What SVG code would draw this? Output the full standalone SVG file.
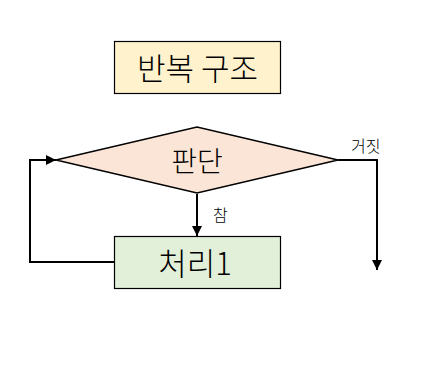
<svg xmlns="http://www.w3.org/2000/svg" width="428" height="392" viewBox="0 0 428 392">
<style>
.t{font-family:"Noto Sans CJK KR","Noto Sans",sans-serif;fill:#000;font-weight:300}
.c{fill:none;stroke:#000;stroke-width:2}
</style>
<defs>
<marker id="ah" viewBox="0 0 10 10" refX="10" refY="5" markerWidth="5" markerHeight="5" orient="auto" markerUnits="strokeWidth">
<path d="M0,0 L10,5 L0,10 z" fill="#000"/>
</marker>
</defs>
<rect width="428" height="392" fill="#fff"/>
<g id="title">
<rect x="114.5" y="41.5" width="166" height="52" fill="#FFF2CC" stroke="#000" stroke-width="1.2"/>
<text class="t" x="197.5" y="80" font-size="31" text-anchor="middle">반복 구조</text>
</g>
<g id="decision">
<polygon points="56,160 197,127 338,160 197,193" fill="#FBE5D6" stroke="#000" stroke-width="1.5"/>
<text class="t" x="197" y="172" font-size="28" text-anchor="middle">판단</text>
</g>
<g id="process">
<rect x="114.5" y="236.5" width="166" height="52" fill="#E2F0D9" stroke="#000" stroke-width="1.2"/>
<text class="t" x="195" y="275" font-size="31" text-anchor="middle">처리1</text>
</g>
<g id="connectors">
<line class="c" x1="197" y1="194" x2="197" y2="236" marker-end="url(#ah)"/>
<polyline class="c" points="338,160 377,160 377,270" marker-end="url(#ah)"/>
<polyline class="c" points="114,262 30,262 30,160 56,160" marker-end="url(#ah)"/>
<text class="t" x="213" y="221" font-size="16">참</text>
<text class="t" x="351" y="152" font-size="16">거짓</text>
</g>
</svg>
